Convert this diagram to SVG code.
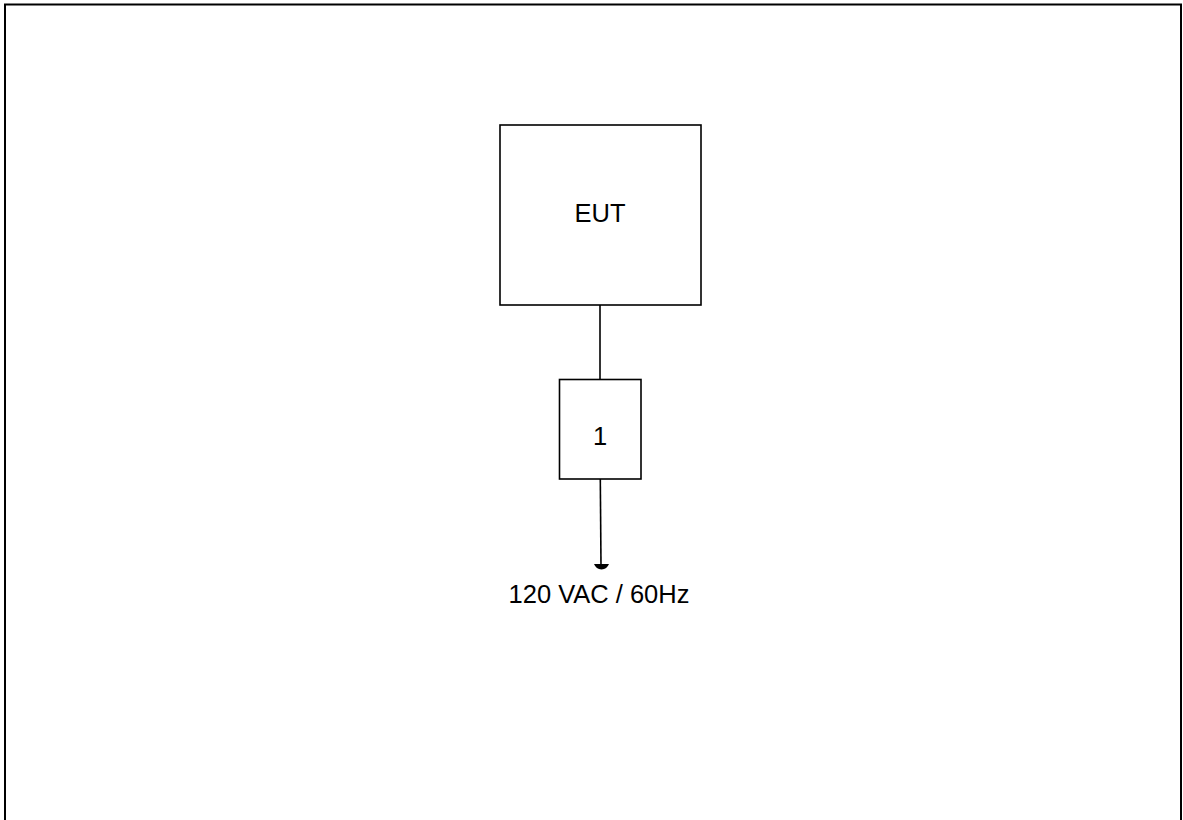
<svg xmlns="http://www.w3.org/2000/svg" width="1183" height="820" viewBox="0 0 1183 820">
<style>
.box{fill:#fff;stroke:#000;stroke-width:1.6}
.lbl{font-family:"Liberation Sans",Arial,sans-serif;font-size:25.5px;fill:#000;text-anchor:middle}
.wire{stroke:#000;stroke-width:1.6;fill:none}
</style>
<rect width="1183" height="820" fill="#fff"/>
<path d="M5,822 L5,4.5 L1181,4.5 L1181,822" fill="none" stroke="#000" stroke-width="2"/>
<g id="connectors">
<line class="wire" x1="600" y1="305" x2="600" y2="379"/>
<line class="wire" x1="600.3" y1="479" x2="601" y2="565"/>
<path d="M594,564 L609,564 Q607,569 601.5,569.5 Q596,569 594,564 Z" fill="#000"/>
</g>
<g id="eut">
<rect class="box" x="500" y="125" width="201" height="180"/>
<text class="lbl" x="600" y="222">EUT</text>
</g>
<g id="n1">
<rect class="box" x="559.5" y="379.5" width="81.5" height="99.5"/>
<text class="lbl" x="600" y="445">1</text>
</g>
<g id="power">
<text class="lbl" x="599" y="603">120 VAC / 60Hz</text>
</g>
</svg>
